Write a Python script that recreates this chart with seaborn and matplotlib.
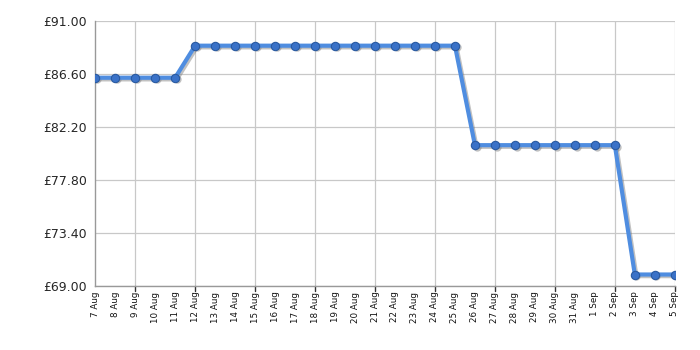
import matplotlib
matplotlib.use("Agg")
import matplotlib.pyplot as plt
import matplotlib.transforms as mtransforms
import seaborn as sns
import pandas as pd

dates = ["7 Aug", "8 Aug", "9 Aug", "10 Aug", "11 Aug", "12 Aug", "13 Aug", "14 Aug",
         "15 Aug", "16 Aug", "17 Aug", "18 Aug", "19 Aug", "20 Aug", "21 Aug", "22 Aug",
         "23 Aug", "24 Aug", "25 Aug", "26 Aug", "27 Aug", "28 Aug", "29 Aug", "30 Aug",
         "31 Aug", "1 Sep", "2 Sep", "3 Sep", "4 Sep", "5 Sep"]
prices = [86.29, 86.29, 86.29, 86.29, 86.29,
          88.95, 88.95, 88.95, 88.95, 88.95, 88.95, 88.95, 88.95, 88.95, 88.95, 88.95,
          88.95, 88.95, 88.95,
          80.69, 80.69, 80.69, 80.69, 80.69, 80.69, 80.69, 80.69,
          69.95, 69.95, 69.95]
y_ticks = [69.00, 73.40, 77.80, 82.20, 86.60, 91.00]

df = pd.DataFrame({"idx": range(len(dates)), "price": prices})

sns.set_style("white")
plt.rcParams['font.family'] = ['DejaVu Sans']

fig = plt.figure(figsize=(7, 3.5), dpi=100)
ax = fig.add_axes([0.136, 0.183, 0.828, 0.757])

# shadow
shadow_tr = mtransforms.offset_copy(ax.transData, fig=fig, x=1.2, y=-1.2, units="points")
sns.lineplot(data=df, x="idx", y="price", ax=ax, color="#777777", linewidth=3, alpha=0.45,
             marker="o", markersize=6, markeredgewidth=0, zorder=3, transform=shadow_tr)

sns.lineplot(data=df, x="idx", y="price", ax=ax, color="#4f8de0", linewidth=3,
             marker="o", markersize=6, markerfacecolor="#3a72c8",
             markeredgecolor="#2a5aa0", markeredgewidth=0.8, zorder=5)

ax.set_xlim(0, len(dates) - 1)
ax.set_ylim(69, 91)
ax.set_yticks(y_ticks)
ax.set_yticklabels([f"£{v:.2f}" for v in y_ticks], fontsize=9)

ax.set_xticks(range(len(dates)))
ax.set_xticklabels(dates, rotation=90, fontsize=6.3)
ax.tick_params(axis="x", length=0, pad=4, colors="#111111")
ax.tick_params(axis="y", length=4, width=1, color="#333333", pad=2)

# major ticks (with gridlines) every 3 days starting at 9 Aug
grid_x = list(range(2, len(dates), 3))
for gx in grid_x:
    ax.axvline(gx, color="#c8c8c8", linewidth=0.9, zorder=0)
    ax.plot([gx, gx], [0, -0.02], transform=ax.get_xaxis_transform(), color="#333333",
            linewidth=1, clip_on=False)
for gy in y_ticks:
    ax.axhline(gy, color="#c8c8c8", linewidth=0.9, zorder=0)

ax.set_xlabel("")
ax.set_ylabel("")
for s in ["top", "right"]:
    ax.spines[s].set_visible(False)
ax.spines["left"].set_color("#999999")
ax.spines["bottom"].set_color("#999999")
ax.spines["left"].set_linewidth(1)
ax.spines["bottom"].set_linewidth(1)

fig.savefig("out.png", dpi=100)
